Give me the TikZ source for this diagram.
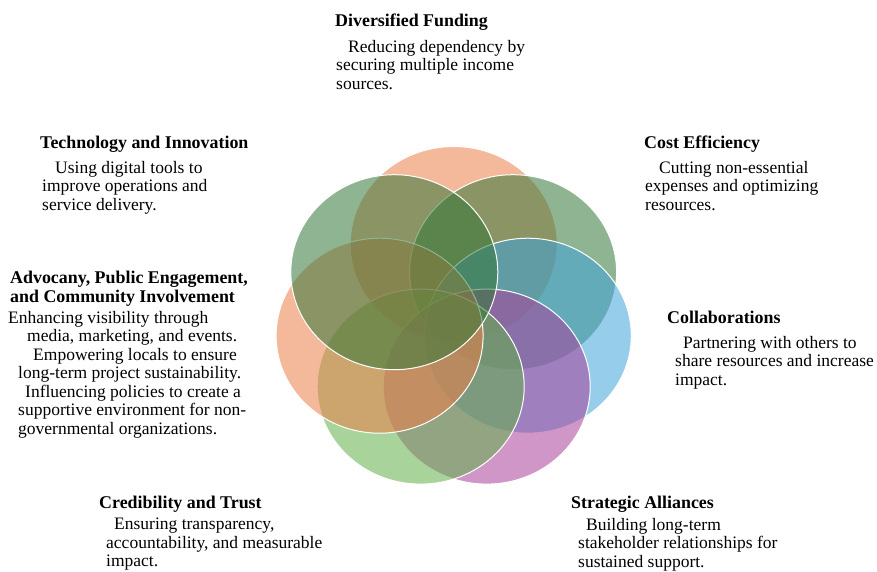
\documentclass[tikz,border=0pt]{standalone}
\usepackage{fontspec}
\setmainfont{Liberation Serif}
\usepackage{xcolor}
\usepackage{tikz}

\definecolor{fundorange}{RGB}{235,126,73}
\definecolor{costgreen}{RGB}{51,119,55}
\definecolor{collblue}{RGB}{64,164,219}
\definecolor{stratpurple}{RGB}{170,64,155}
\definecolor{credgreen}{RGB}{97,177,73}
\definecolor{advorange}{RGB}{235,126,73}
\definecolor{techgreen}{RGB}{51,119,55}

\begin{document}
\begin{tikzpicture}[x=1pt, y=-1pt,
    petal/.style={draw=white, line width=1pt, fill opacity=0.55},
    head/.style={font=\fontsize{17.9}{19}\selectfont\bfseries, inner sep=0pt, anchor=base west},
    body/.style={font=\fontsize{17.5}{18.5}\selectfont, inner sep=0pt, anchor=north west, align=left}]

      \fill[white] (0,0) rectangle (877,572);
      \useasboundingbox (0,0) rectangle (877,572);

      \draw[petal, fill=fundorange]  (453.7, 244.0) ellipse [x radius=103.5pt, y radius=97.5pt];
      \draw[petal, fill=costgreen]   (513.1, 272.2) ellipse [x radius=103.5pt, y radius=97.5pt];
      \draw[petal, fill=collblue]    (527.8, 335.7) ellipse [x radius=103.5pt, y radius=97.5pt];
      \draw[petal, fill=stratpurple] (486.7, 386.6) ellipse [x radius=103.5pt, y radius=97.5pt];
      \draw[petal, fill=credgreen]   (420.7, 386.6) ellipse [x radius=103.5pt, y radius=97.5pt];
      \draw[petal, fill=advorange]   (379.6, 335.7) ellipse [x radius=103.5pt, y radius=97.5pt];
      \draw[petal, fill=techgreen]   (394.3, 272.2) ellipse [x radius=103.5pt, y radius=97.5pt];

      \node[head]  (fundT)  at (335,  27)  {Diversified Funding};
      \node[body]  (fundB)  at (336,  40)  {\hspace*{12pt}Reducing dependency by\\securing multiple income\\sources.};

      \node[head]  (techT)  at ( 40, 149)  {Technology and Innovation};
      \node[body]  (techB)  at ( 42, 161)  {\hspace*{13pt}Using digital tools to\\improve operations and\\service delivery.};

      \node[head]  (costT)  at (644, 149)  {Cost Efficiency};
      \node[body]  (costB)  at (645, 161)  {\hspace*{14pt}Cutting non-essential\\expenses and optimizing\\resources.};

      \node[head]  (collT)  at (667, 323)  {Collaborations};
      \node[body]  (collB)  at (675, 336)  {\hspace*{8pt}Partnering with others to\\share resources and increase\\impact.};

      \node[head]  (stratT) at (571, 508)  {Strategic Alliances};
      \node[body]  (stratB) at (578, 518)  {\hspace*{8pt}Building long-term\\stakeholder relationships for\\sustained support.};

      \node[head]  (credT)  at ( 99, 508)  {Credibility and Trust};
      \node[body]  (credB)  at (106, 518)  {\hspace*{8pt}Ensuring transparency,\\accountability, and measurable\\impact.};

      \node[head, anchor=north west, align=left] (advT) at (10, 271) {Advocany, Public Engagement,\\and Community Involvement};
      \node[body]  (advB)   at (  8, 311)  {Enhancing visibility through\\\hspace*{19pt}media, marketing, and events.\\\hspace*{25pt}Empowering locals to ensure\\\hspace*{10pt}long-term project sustainability.\\\hspace*{17pt}Influencing policies to create a\\\hspace*{10pt}supportive environment for non-\\\hspace*{10pt}governmental organizations.};
    \end{tikzpicture}
\end{document}
